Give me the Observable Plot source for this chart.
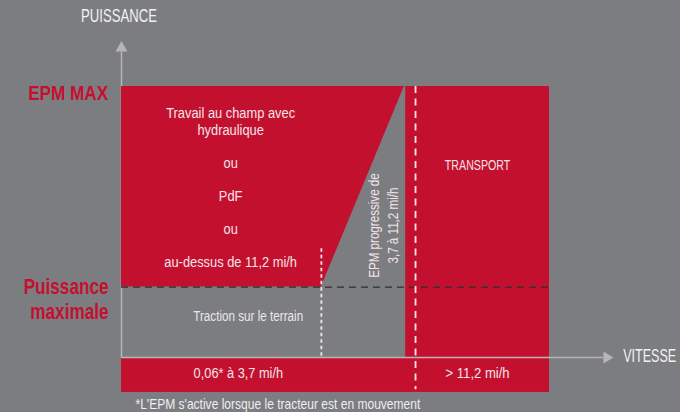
<!DOCTYPE html>
<html>
<head>
<meta charset="utf-8">
<script src="https://cdn.jsdelivr.net/npm/d3@7"></script>
<script src="https://cdn.jsdelivr.net/npm/@observablehq/plot@0.6"></script>
<style>
  html, body { margin: 0; padding: 0; background: #7c7d81; }
  #chart svg { display: block; }
</style>
</head>
<body>
<div id="chart"></div>
<script>
// ---- data (schematic units: speed 0..100 = origin..end of transport, power 0..100 = 0..EPM MAX)
const powerLevels = [26, 100];                     // Puissance maximale, EPM MAX
const powerLabels = ["Puissance\nmaximale", "EPM MAX"];
const speedBreaks = [46.7, 66.1, 66.4, 68.7, 100];  // 3,7 mi/h, top of EPM ramp, ramp edge, 11,2 mi/h, end
const bandLevels = [-0.25, -12.9];                 // speed band under the axis
const axisEnds = [112.6, 112.9];                   // x axis end, y axis end
const zoneLabels = [
  "Travail au champ avec\nhydraulique\n\nou\n\nPdF\n\nou\n\nau-dessus de 11,2 mi/h",
  "TRANSPORT",
  "EPM progressive de\n3,7 à 11,2 mi/h",
  "Traction sur le terrain"
];
const bandLabels = ["0,06* à 3,7 mi/h", "> 11,2 mi/h"];
const axisTitles = ["PUISSANCE", "VITESSE"];
const footnote = "*L'EPM s'active lorsque le tracteur est en mouvement";

// ---- styles
const RED = "#c4102f";
const BG = "#7c7d81";
const AXIS = "#b6b6b9";
const LIGHT = "#f3e4e7";
const SANS = "'Liberation Sans', Arial, Helvetica, sans-serif";

const [v37, rampTop, rampEdge, v112, vEnd] = speedBreaks;
const [pMax, epmMax] = powerLevels;
const [bandTop, bandBottom] = bandLevels;
const [xEnd, yEnd] = axisEnds;
const bandMid = (bandTop + bandBottom) / 2;

const arrowUp = {draw(c) { c.moveTo(-6, 0); c.lineTo(6, 0); c.lineTo(0, -10.5); c.closePath(); }};
const arrowRight = {draw(c) { c.moveTo(0, -6); c.lineTo(0, 6); c.lineTo(10, 0); c.closePath(); }};

// horizontal squeeze per label, to imitate the original condensed typeface
const squeezes = new Map();
function label(value, options, squeeze = 0.82) {
  squeezes.set(value.replace(/\n/g, ""), squeeze);
  return Plot.text([value], {text: d => d, ...options});
}

const chart = Plot.plot({
  width: 680,
  height: 412,
  margin: 0,
  style: {background: BG, overflow: "visible", fontFamily: SANS},
  x: {domain: [0, 100], range: [121, 549], axis: null},
  y: {domain: [0, 100], range: [357, 86], axis: null},
  marks: [
    // y axis (under the red zones)
    Plot.ruleX([0], {y1: 0, y2: yEnd, stroke: AXIS, strokeWidth: 1.5}),
    Plot.dot([{x: 0, y: yEnd}], {x: "x", y: "y", symbol: arrowUp, fill: AXIS, stroke: null}),
    // red zones
    Plot.areaX([{x: v37, y: pMax}, {x: rampTop, y: epmMax}], {y: "y", x1: 0, x2: "x", fill: RED}),
    Plot.rect([{x1: rampEdge, x2: vEnd, y1: 0, y2: epmMax}], {x1: "x1", x2: "x2", y1: "y1", y2: "y2", fill: RED}),
    Plot.rect([{x1: 0, x2: vEnd, y1: bandTop, y2: bandBottom}], {x1: "x1", x2: "x2", y1: "y1", y2: "y2", fill: RED}),
    // dashed guides
    Plot.ruleY([pMax], {x1: 0, x2: vEnd, stroke: "#2e2e30", strokeWidth: 1.3, strokeDasharray: "7,5"}),
    Plot.ruleX([v37], {y1: 0.5, y2: 40.6, stroke: LIGHT, strokeWidth: 1.8, strokeDasharray: "3.5,3"}),
    Plot.ruleX([v112], {y1: epmMax, y2: bandBottom + 1, stroke: LIGHT, strokeWidth: 1.8, strokeDasharray: "7,5.5"}),
    // x axis (over the red)
    Plot.ruleY([0], {x1: 0, x2: xEnd, stroke: AXIS, strokeWidth: 1.5}),
    Plot.dot([{x: xEnd, y: 0}], {x: "x", y: "y", symbol: arrowRight, fill: AXIS, stroke: null}),
    // axis titles
    label(axisTitles[0], {x: 0, y: yEnd, dx: -2.5, dy: -35, fill: "#f2f2f2", fontSize: 18.5, textAnchor: "middle"}, 0.71),
    label(axisTitles[1], {x: xEnd, y: 0, dx: 19.8, dy: -0.7, fill: "#f2f2f2", fontSize: 17.7, textAnchor: "start"}, 0.71),
    // power level labels
    label(powerLabels[1], {x: 0, y: epmMax, dx: -13.3, dy: 7, fill: RED, fontSize: 19.5, fontWeight: "bold", textAnchor: "end"}, 0.88),
    label(powerLabels[0], {x: 0, y: pMax, dx: -13, dy: -10.5, fill: RED, fontSize: 22, fontWeight: "bold", textAnchor: "end", lineAnchor: "top", lineHeight: 1.14}, 0.78),
    // zone labels
    label(zoneLabels[0], {x: 25.5, y: epmMax, dy: 20, fill: LIGHT, fontSize: 15.5, lineAnchor: "top", lineHeight: 1.065}, 0.83),
    label(zoneLabels[1], {x: (rampEdge + vEnd) / 2, y: epmMax, dy: 73.3, fill: LIGHT, fontSize: 15, lineAnchor: "top"}, 0.71),
    label(zoneLabels[2], {x: 60.9, y: 48.7, fill: LIGHT, fontSize: 14, rotate: -90, lineHeight: 1.36}, 0.83),
    label(zoneLabels[3], {x: 29.6, y: 15.3, fill: "#e8e8ea", fontSize: 15}, 0.78),
    // band labels
    label(bandLabels[0], {x: 27.3, y: bandMid, dy: -2.3, fill: LIGHT, fontSize: 15.4}, 0.83),
    label(bandLabels[1], {x: (rampEdge + vEnd) / 2, y: bandMid, dy: -2.3, fill: LIGHT, fontSize: 15.4}, 0.85),
    // footnote
    label(footnote, {x: 0, y: bandBottom, dx: 14, dy: 12, fill: "#eeeeee", fontSize: 14, textAnchor: "start"}, 0.86)
  ]
});

d3.select(chart).selectAll("text").each(function() {
  const s = squeezes.get(this.textContent) ?? 0.82;
  const t = this.getAttribute("transform") || "";
  this.setAttribute("transform", t + ` scale(${s},1)`);
});
document.getElementById("chart").append(chart);
</script>
</body>
</html>
